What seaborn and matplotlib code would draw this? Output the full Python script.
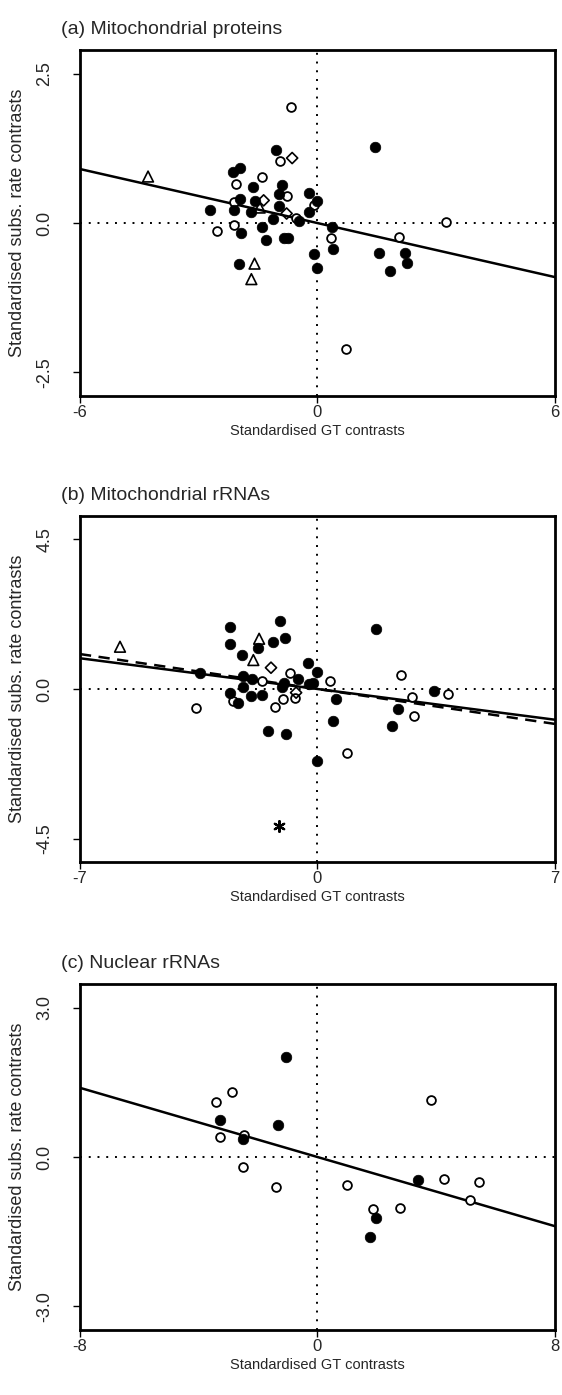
import pandas as pd
import seaborn as sns
import matplotlib.pyplot as plt

# ---- panel (a) Mitochondrial proteins ----
a_filled_x = [-1.04, -2.13, -1.96, -1.62, -0.90, -0.97, -0.21, -0.21, -2.71, -2.11, -1.96,
              -1.59, -0.98, -1.67, -1.12, -0.47, -1.93, -1.41, -1.31, -0.85, -0.74, -0.09,
              -0.01, -1.99, 0.36, 0.39, 1.56, 2.22, 2.25, 1.84, 1.46, 0.0]
a_filled_y = [1.22, 0.85, 0.93, 0.60, 0.64, 0.49, 0.50, 0.18, 0.22, 0.22, 0.40,
              0.37, 0.28, 0.18, 0.07, 0.03, -0.16, -0.06, -0.28, -0.25, -0.25, -0.52,
              -0.75, -0.68, -0.06, -0.43, -0.50, -0.50, -0.67, -0.80, 1.28, 0.37]
a_open_x = [-0.67, -0.94, -1.39, -2.06, -0.78, -0.09, -2.11, -0.53, -2.55, -2.10, 0.33, 2.06, 3.24, 0.72]
a_open_y = [1.95, 1.04, 0.78, 0.66, 0.46, 0.30, 0.36, 0.08, -0.14, -0.04, -0.25, -0.23, 0.01, -2.11]
a_diamond_x = [-0.64, -1.36, -0.78]
a_diamond_y = [1.09, 0.38, 0.16]
a_triangle_x = [-4.28, -1.46, -1.59, -1.67]
a_triangle_y = [0.78, 0.26, -0.68, -0.94]
a_fit = (0.0, -0.151)

# ---- panel (b) Mitochondrial rRNAs ----
b_filled_x = [-2.58, -2.58, -1.11, -0.95, -1.32, -1.75, -2.22, -0.28, -0.01, -0.58, -3.46,
              -2.20, -1.93, -2.20, -0.99, -0.26, -0.12, -1.06, 1.72, 3.44, -2.58, -2.34,
              -1.97, -1.63, -1.45, -0.93, -0.01, 0.54, 0.45, 2.36, 2.21]
b_filled_y = [1.86, 1.36, 2.04, 1.54, 1.41, 1.22, 1.02, 0.78, 0.52, 0.29, 0.49,
              0.39, 0.30, 0.07, 0.17, 0.15, 0.19, 0.07, 1.81, -0.05, -0.13, -0.43,
              -0.22, -0.17, -1.26, -1.35, -2.16, -0.30, -0.97, -0.60, -1.12]
b_open_x = [-0.81, -1.63, 0.37, 2.47, -2.50, -3.58, -1.26, -1.03, -0.66, 0.88, 2.78, 2.85, 3.86]
b_open_y = [0.48, 0.23, 0.23, 0.41, -0.36, -0.58, -0.53, -0.29, -0.26, -1.93, -0.25, -0.80, -0.15]
b_diamond_x = [-1.37, -0.63]
b_diamond_y = [0.64, -0.11]
b_triangle_x = [-1.72, -1.89, -5.82]
b_triangle_y = [1.51, 0.87, 1.27]
b_star_x = [-1.13]
b_star_y = [-4.12]
b_fit = (0.0, -0.132)
b_fit_dashed = (0.0, -0.150)

# ---- panel (c) Nuclear rRNAs ----
c_filled_x = [-1.06, -3.28, -1.33, -2.51, 1.96, 1.76, 3.37]
c_filled_y = [2.01, 0.74, 0.64, 0.36, -1.23, -1.61, -0.46]
c_open_x = [-2.87, -3.41, -3.27, -2.49, -2.52, -1.40, 3.81, 1.00, 1.86, 2.79, 4.25, 5.44, 5.15]
c_open_y = [1.30, 1.10, 0.40, 0.44, -0.20, -0.60, 1.14, -0.56, -1.05, -1.03, -0.44, -0.50, -0.87]
c_fit = (0.0, -0.174)

titles = ["(a) Mitochondrial proteins", "(b) Mitochondrial rRNAs", "(c) Nuclear rRNAs"]
xlims = [6, 7, 8]
ylims = [2.9, 5.2, 3.48]
yticks = [2.5, 4.5, 3.0]

sns.set_style("ticks")
plt.rcParams['font.family'] = ['Liberation Sans', 'DejaVu Sans']
plt.rcParams['axes.unicode_minus'] = False

fig = plt.figure(figsize=(5.62, 13.95), dpi=100)
bottoms = [0.7161, 0.3821, 0.0466]
axes = [fig.add_axes([0.1423, b, 0.8452, 0.2480]) for b in bottoms]

panels = [
    dict(filled=(a_filled_x, a_filled_y), open=(a_open_x, a_open_y), diamond=(a_diamond_x, a_diamond_y),
         triangle=(a_triangle_x, a_triangle_y), fits=[(a_fit, '-')]),
    dict(filled=(b_filled_x, b_filled_y), open=(b_open_x, b_open_y), diamond=(b_diamond_x, b_diamond_y),
         triangle=(b_triangle_x, b_triangle_y), star=(b_star_x, b_star_y),
         fits=[(b_fit, '-'), (b_fit_dashed, (0, (4.5, 3)))]),
    dict(filled=(c_filled_x, c_filled_y), open=(c_open_x, c_open_y), fits=[(c_fit, '-')]),
]

for ax, p, title, xl, yl, yt in zip(axes, panels, titles, xlims, ylims, yticks):
    # dotted zero lines and fitted regression lines
    ax.axhline(0, color='black', lw=1.4, ls=(0, (1, 3.5)), zorder=1)
    ax.axvline(0, color='black', lw=1.4, ls=(0, (1, 3.5)), zorder=1)
    for (icpt, slope), ls in p['fits']:
        ax.axline((0, icpt), slope=slope, color='black', lw=1.8, ls=ls, zorder=2)

    df = pd.DataFrame({'x': p['open'][0], 'y': p['open'][1]})
    sns.scatterplot(data=df, x='x', y='y', ax=ax, marker='o', s=40, facecolor='white',
                    edgecolor='black', linewidth=1.3, zorder=3)
    df = pd.DataFrame({'x': p['filled'][0], 'y': p['filled'][1]})
    sns.scatterplot(data=df, x='x', y='y', ax=ax, marker='o', s=58, color='black',
                    edgecolor='black', linewidth=0.5, zorder=4)
    if 'diamond' in p:
        df = pd.DataFrame({'x': p['diamond'][0], 'y': p['diamond'][1]})
        sns.scatterplot(data=df, x='x', y='y', ax=ax, marker='D', s=32, facecolor='none',
                        edgecolor='black', linewidth=1.2, zorder=5)
    if 'triangle' in p:
        df = pd.DataFrame({'x': p['triangle'][0], 'y': p['triangle'][1]})
        sns.scatterplot(data=df, x='x', y='y', ax=ax, marker='^', s=60, facecolor='none',
                        edgecolor='black', linewidth=1.2, zorder=5)
    if 'star' in p:
        df = pd.DataFrame({'x': p['star'][0], 'y': p['star'][1]})
        sns.scatterplot(data=df, x='x', y='y', ax=ax, marker=(6, 2, 0), s=60,
                        color='black', linewidth=1.6, zorder=5)

    ax.set_xlim(-xl, xl)
    ax.set_ylim(-yl, yl)
    ax.set_xticks([-xl, 0, xl])
    ax.set_xticklabels([str(-xl), "0", str(xl)])
    ax.set_yticks([-yt, 0, yt])
    ax.set_yticklabels([f"{-yt:.1f}", "0.0", f"{yt:.1f}"], rotation=90, va='center')
    ax.tick_params(direction='out', length=5, width=1, color='black')
    ax.tick_params(axis='x', labelsize=12, pad=1.5)
    ax.tick_params(axis='y', labelsize=13, pad=14)
    for sp in ax.spines.values():
        sp.set_linewidth(2.0)
        sp.set_color('black')
    ax.set_xlabel("Standardised GT contrasts", fontsize=10.5)
    ax.set_ylabel("Standardised subs. rate contrasts", fontsize=13)
    ax.xaxis.set_label_coords(0.5, -0.08)
    ax.yaxis.set_label_coords(-0.114, 0.5)
    ax.text(-0.04, 1.035, title, transform=ax.transAxes, fontsize=14, ha='left', va='bottom')

fig.savefig("out.png", dpi=100)
